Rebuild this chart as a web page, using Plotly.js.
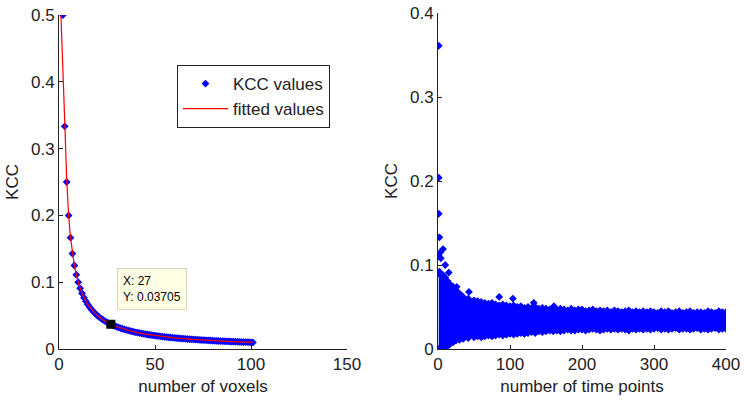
<!DOCTYPE html>
<html>
<head>
<meta charset="utf-8">
<script src="https://cdn.plot.ly/plotly-3.0.1.min.js"></script>
<style>html,body{margin:0;padding:0;background:#fff}#chart{width:745px;height:401px}</style>
</head>
<body>
<div id="chart"></div>
<script>
// ---- Left panel: KCC vs number of voxels ----
const voxelCounts = [2,3,4,5,6,7,8,9,10,11,12,13,14,15,16,17,18,19,20,21,22,23,24,25,26,27,28,29,30,31,32,33,34,35,36,37,38,39,40,41,42,43,44,45,46,47,48,49,50,51,52,53,54,55,56,57,58,59,60,61,62,63,64,65,66,67,68,69,70,71,72,73,74,75,76,77,78,79,80,81,82,83,84,85,86,87,88,89,90,91,92,93,94,95,96,97,98,99,100,101];
const kccValues = [0.5,0.3333,0.25,0.2,0.1667,0.1429,0.125,0.1111,0.1,0.0909,0.0833,0.0769,0.0714,0.0667,0.0625,0.0588,0.0556,0.0526,0.05,0.0476,0.0455,0.0435,0.0417,0.04,0.0385,0.03705,0.0357,0.0345,0.0333,0.0323,0.0313,0.0303,0.0294,0.0286,0.0278,0.027,0.0263,0.0256,0.025,0.0244,0.0238,0.0233,0.0227,0.0222,0.0217,0.0213,0.0208,0.0204,0.02,0.0196,0.0192,0.0189,0.0185,0.0182,0.0179,0.0175,0.0172,0.0169,0.0167,0.0164,0.0161,0.0159,0.0156,0.0154,0.0152,0.0149,0.0147,0.0145,0.0143,0.0141,0.0139,0.0137,0.0135,0.0133,0.0132,0.013,0.0128,0.0127,0.0125,0.0123,0.0122,0.012,0.0119,0.0118,0.0116,0.0115,0.0114,0.0112,0.0111,0.011,0.0109,0.0108,0.0106,0.0105,0.0104,0.0103,0.0102,0.0101,0.01,0.0099];
const fitX = [1,2,3,4,5,6,7,8,9,10,12,14,16,18,20,23,26,30,35,40,45,50,60,70,80,90,101];
const fitY = [0.5,0.43,0.34,0.255,0.2,0.167,0.143,0.125,0.111,0.1,0.0833,0.0714,0.0625,0.0556,0.05,0.0435,0.0385,0.0333,0.0286,0.025,0.0222,0.02,0.0167,0.0143,0.0125,0.0111,0.0099];
const tipX = 27, tipY = 0.03705;
const leftXTicks = [0,50,100,150];
const leftYTicks = [0,0.1,0.2,0.3,0.4,0.5];

// ---- Right panel: KCC vs number of time points ----
const bandX =     [1,2,3,5,7,10,13,17,21,25,30,35,42,50,55,60,65,70,75,80,85,90,95,100,105,110,115,120,125,130,135,140,145,150,155,160,165,170,175,180,185,190,195,200,205,210,215,220,225,230,235,240,245,250,255,260,265,270,275,280,285,290,295,300,305,310,315,320,325,330,335,340,345,350,355,360,365,370,375,380,385,390,395,400];
const bandUpper = [0.090,0.092,0.090,0.089,0.088,0.085,0.081,0.077,0.074,0.070,0.066,0.062,0.060,0.058,0.057,0.056,0.055,0.054,0.055,0.053,0.052,0.053,0.052,0.051,0.052,0.050,0.051,0.049,0.050,0.049,0.050,0.048,0.049,0.048,0.047,0.049,0.047,0.048,0.047,0.046,0.048,0.046,0.047,0.047,0.045,0.046,0.047,0.045,0.046,0.045,0.046,0.044,0.046,0.045,0.044,0.045,0.046,0.044,0.045,0.044,0.045,0.044,0.045,0.044,0.043,0.045,0.044,0.045,0.043,0.044,0.045,0.043,0.044,0.045,0.043,0.044,0.044,0.043,0.045,0.044,0.043,0.045,0.044,0.044];
const bandLower = [0.000,0.000,0.000,0.001,0.001,0.002,0.003,0.006,0.008,0.010,0.011,0.012,0.013,0.014,0.015,0.014,0.015,0.016,0.015,0.016,0.017,0.016,0.017,0.018,0.017,0.018,0.019,0.018,0.019,0.020,0.019,0.021,0.020,0.021,0.022,0.021,0.022,0.021,0.022,0.023,0.022,0.022,0.023,0.023,0.022,0.023,0.024,0.023,0.022,0.023,0.024,0.023,0.024,0.023,0.024,0.023,0.022,0.024,0.023,0.024,0.023,0.024,0.023,0.024,0.025,0.023,0.024,0.023,0.024,0.025,0.023,0.024,0.024,0.023,0.024,0.025,0.023,0.024,0.023,0.024,0.025,0.023,0.024,0.024];
const outlierX = [1,1,1,1,2,3,4,7,10,15,26,43,85,104,133,161];
const outlierY = [0.361,0.204,0.161,0.112,0.133,0.115,0.108,0.119,0.100,0.091,0.074,0.068,0.062,0.060,0.055,0.051];
const rightXTicks = [0,100,200,300,400];
const rightYTicks = [0,0.1,0.2,0.3,0.4];

const BLUE = '#0000ff';
const FONT = 'Liberation Sans, Arial, sans-serif';
const FS = 17;

// closed outline of the dense band (upper edge forward, lower edge back)
const bandPolyX = bandX.concat(bandX.slice().reverse());
const bandPolyY = bandUpper.concat(bandLower.slice().reverse());

const traces = [
  {x: voxelCounts, y: kccValues, type: 'scatter', mode: 'markers', name: 'KCC values',
   marker: {color: BLUE, size: 6, symbol: 'diamond'}, xaxis: 'x', yaxis: 'y'},
  {x: fitX, y: fitY, type: 'scatter', mode: 'lines', name: 'fitted values',
   line: {color: '#ff0000', width: 1.2}, xaxis: 'x', yaxis: 'y'},
  {x: [tipX], y: [tipY], type: 'scatter', mode: 'markers', showlegend: false,
   marker: {color: '#000', size: 9, symbol: 'square'}, xaxis: 'x', yaxis: 'y'},
  {x: bandPolyX, y: bandPolyY, type: 'scatter', mode: 'markers', showlegend: false, fill: 'toself',
   fillcolor: BLUE, marker: {color: BLUE, size: 6, symbol: 'diamond'}, xaxis: 'x2', yaxis: 'y2'},
  {x: outlierX, y: outlierY, type: 'scatter', mode: 'markers', showlegend: false,
   marker: {color: BLUE, size: 6, symbol: 'diamond'}, xaxis: 'x2', yaxis: 'y2'}
];

const axisCommon = {
  showgrid: false, zeroline: false, showline: true, linecolor: '#222', linewidth: 1,
  ticks: 'inside', ticklen: 4, tickcolor: '#222', automargin: false,
  tickfont: {family: FONT, size: FS, color: '#222'}, fixedrange: true
};
const titleFont = {family: FONT, size: FS, color: '#222'};

const layout = {
  width: 745, height: 401,
  margin: {l: 0, r: 0, t: 0, b: 0},
  paper_bgcolor: '#fff', plot_bgcolor: '#fff',
  font: {family: FONT, color: '#222'},
  xaxis: Object.assign({}, axisCommon, {domain: [59/745, 347/745], range: [0, 150], tickvals: leftXTicks,
    title: {text: 'number of voxels', font: titleFont, standoff: 6}, anchor: 'y'}),
  yaxis: Object.assign({}, axisCommon, {domain: [1-349/401, 1-15/401], range: [0, 0.5], tickvals: leftYTicks,
    title: {text: 'KCC', font: titleFont, standoff: 8}, anchor: 'x'}),
  xaxis2: Object.assign({}, axisCommon, {domain: [438/745, 726/745], range: [0, 400], tickvals: rightXTicks,
    title: {text: 'number of time points', font: titleFont, standoff: 6}, anchor: 'y2'}),
  yaxis2: Object.assign({}, axisCommon, {domain: [1-349/401, 1-13/401], range: [0, 0.4], tickvals: rightYTicks,
    title: {text: 'KCC', font: titleFont, standoff: 8}, anchor: 'x2'}),
  showlegend: true,
  legend: {x: 177/745, y: 1-65/401, xanchor: 'left', yanchor: 'top', bgcolor: '#fff', traceorder: 'normal',
    itemwidth: 45, bordercolor: '#222', borderwidth: 1, font: {family: FONT, size: FS, color: '#222'}, tracegroupgap: 0},
  annotations: [{
    x: tipX, y: tipY, xref: 'x', yref: 'y', showarrow: false,
    text: 'X: ' + tipX + '<br>Y: ' + tipY, align: 'left',
    xanchor: 'left', yanchor: 'bottom', xshift: 6, yshift: 14,
    bgcolor: '#ffffe6', bordercolor: '#d8d8c0', borderwidth: 1, borderpad: 5,
    font: {family: FONT, size: 12, color: '#000'}
  }]
};

Plotly.newPlot('chart', traces, layout, {staticPlot: true, displayModeBar: false});
</script>
</body>
</html>
